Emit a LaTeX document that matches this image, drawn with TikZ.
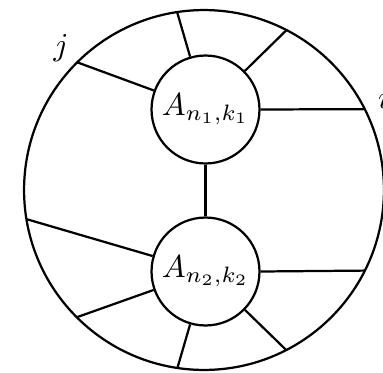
\documentclass[tikz,border=0pt]{standalone}
\usetikzlibrary{calc}
\begin{document}
\begin{tikzpicture}[x=0.314pt,y=-0.314pt,line width=0.7pt,
  blob/.style={draw,circle,minimum size=33.9pt,inner sep=0pt},
  lbl/.style={inner sep=0pt}]
\useasboundingbox (0,0) rectangle (383,372);
\coordinate (O) at (204,190);
\draw (O) circle[radius=56.5pt];
\node[blob] (c1) at (205.5,109.5) {$A_{n_1,k_1}$};
\node[blob] (c2) at (205.5,271.5) {$A_{n_2,k_2}$};
\draw (c1) -- (c2);
% points on the outer circle (visual angles, counter-clockwise)
\coordinate (t1) at ($(O)+(-98.6:180)$);
\coordinate (t2) at ($(O)+(-62.7:180)$);
\coordinate (t3) at ($(O)+(-26.7:180)$);
\coordinate (t4) at ($(O)+(-134.8:180)$);
\coordinate (b1) at ($(O)+(-189.3:180)$);
\coordinate (b2) at ($(O)+(26.6:180)$);
\coordinate (b3) at ($(O)+(135:180)$);
\coordinate (b4) at ($(O)+(98.5:180)$);
\coordinate (b5) at ($(O)+(62.8:180)$);
\draw (c1) -- (t1);
\draw (c1) -- (t2);
\draw (c1.east) -- (t3);
\draw (c1) -- (t4);
\draw (c2) -- (b1);
\draw (c2.east) -- (b2);
\draw (c2) -- (b3);
\draw (c2) -- (b4);
\draw (c2) -- (b5);
\node[lbl] (j) at (61,48) {$j$};
\node[lbl,anchor=base west] (i) at (377,108) {$i$};
\end{tikzpicture}
\end{document}
